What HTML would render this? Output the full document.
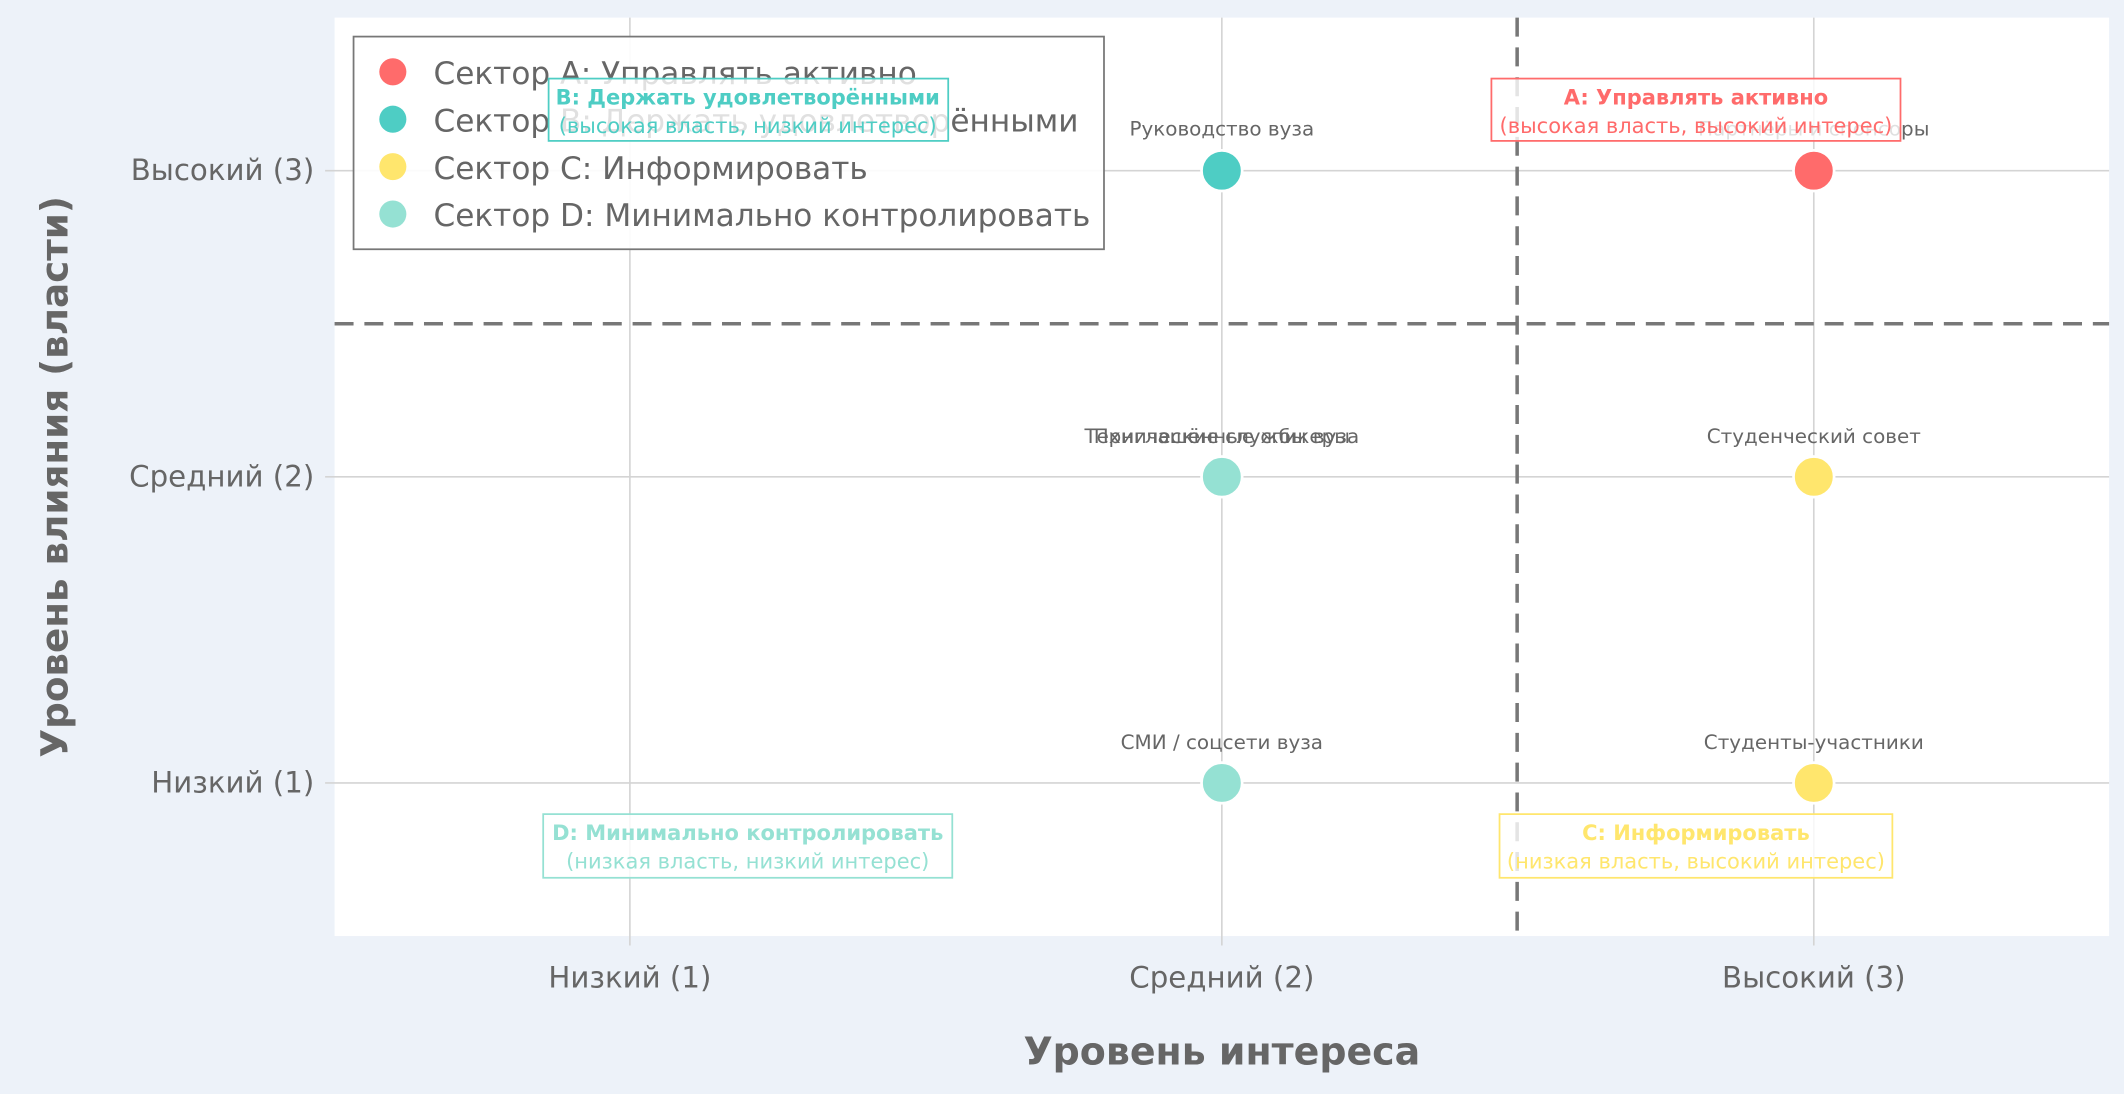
<!DOCTYPE html>
<html><head><meta charset="utf-8"><style>
html,body{margin:0;padding:0;background:#edf2f9;}
svg{display:block;font-family:"DejaVu Sans","Liberation Sans",sans-serif;}
</style></head><body>
<svg width="2124" height="1094" viewBox="0 0 1568 807.6" xmlns="http://www.w3.org/2000/svg">
<rect x="0" y="0" width="1568" height="808" fill="#edf2f9"/>
<rect x="247" y="13" width="1310" height="678" fill="#ffffff"/>
<g stroke="#d4d4d4" stroke-width="1.2">
<line x1="465" y1="13" x2="465" y2="698"/>
<line x1="902" y1="13" x2="902" y2="698"/>
<line x1="1339" y1="13" x2="1339" y2="698"/>
<line x1="240" y1="126" x2="1557" y2="126"/>
<line x1="240" y1="352" x2="1557" y2="352"/>
<line x1="240" y1="578" x2="1557" y2="578"/>
</g>
<g stroke="#777" stroke-width="2.6" stroke-dasharray="14,8">
<line x1="1120" y1="13" x2="1120" y2="691"/>
<line x1="247" y1="239" x2="1557" y2="239"/>
</g>
<g fill="#666" font-size="21.6" text-anchor="end">
<text x="232" y="133">Высокий (3)</text>
<text x="232" y="359">Средний (2)</text>
<text x="232" y="585">Низкий (1)</text>
</g>
<g fill="#666" font-size="21.6" text-anchor="middle">
<text x="465" y="729">Низкий (1)</text>
<text x="902" y="729">Средний (2)</text>
<text x="1339" y="729">Высокий (3)</text>
</g>
<text x="902" y="786" fill="#666" font-size="28" font-weight="bold" text-anchor="middle">Уровень интереса</text>
<text transform="translate(50,352) rotate(-90)" fill="#666" font-size="27.5" font-weight="bold" text-anchor="middle">Уровень влияния (власти)</text>
<g stroke="#fff" stroke-width="2">
<circle cx="902" cy="126" r="15" fill="#4ecdc4"/>
<circle cx="1339" cy="126" r="15" fill="#ff6b6b"/>
<circle cx="902" cy="352" r="15" fill="#95e1d3"/>
<circle cx="1339" cy="352" r="15" fill="#ffe66d"/>
<circle cx="902" cy="578" r="15" fill="#95e1d3"/>
<circle cx="1339" cy="578" r="15" fill="#ffe66d"/>
</g>
<g fill="#666" font-size="14.7" text-anchor="middle">
<text x="902" y="100">Руководство вуза</text>
<text x="1339" y="100">Партнёры и спонсоры</text>
<text x="902" y="327">Технические службы вуза</text>
<text x="902" y="327">Приглашённые спикеры</text>
<text x="1339" y="327">Студенческий совет</text>
<text x="902" y="553">СМИ / соцсети вуза</text>
<text x="1339" y="553">Студенты-участники</text>
</g>
<rect x="261" y="27" width="554" height="157" fill="#fff" fill-opacity="0.9" stroke="#777" stroke-width="1.3"/>
<circle cx="290" cy="53" r="10" fill="#ff6b6b"/>
<circle cx="290" cy="88" r="10" fill="#4ecdc4"/>
<circle cx="290" cy="123" r="10" fill="#ffe66d"/>
<circle cx="290" cy="158" r="10" fill="#95e1d3"/>
<g fill="#666" font-size="23">
<text x="320" y="62">Сектор A: Управлять активно</text>
<text x="320" y="97">Сектор B: Держать удовлетворёнными</text>
<text x="320" y="132">Сектор C: Информировать</text>
<text x="320" y="167">Сектор D: Минимально контролировать</text>
</g>
<g font-size="15.5" text-anchor="middle">
<rect x="1101" y="58" width="302" height="46" fill="#fff" fill-opacity="0.8" stroke="#ff6b6b" stroke-width="1.3"/>
<text x="1252" y="77" fill="#ff6b6b" font-weight="bold">A: Управлять активно</text>
<text x="1252" y="98" fill="#ff6b6b">(высокая власть, высокий интерес)</text>
<rect x="405" y="58" width="295" height="46" fill="#fff" fill-opacity="0.8" stroke="#4ecdc4" stroke-width="1.3"/>
<text x="552" y="77" fill="#4ecdc4" font-weight="bold">B: Держать удовлетворёнными</text>
<text x="552" y="98" fill="#4ecdc4">(высокая власть, низкий интерес)</text>
<rect x="1107" y="601" width="290" height="47" fill="#fff" fill-opacity="0.8" stroke="#ffe66d" stroke-width="1.3"/>
<text x="1252" y="620" fill="#ffe66d" font-weight="bold">C: Информировать</text>
<text x="1252" y="641" fill="#ffe66d">(низкая власть, высокий интерес)</text>
<rect x="401" y="601" width="302" height="47" fill="#fff" fill-opacity="0.8" stroke="#95e1d3" stroke-width="1.3"/>
<text x="552" y="620" fill="#95e1d3" font-weight="bold">D: Минимально контролировать</text>
<text x="552" y="641" fill="#95e1d3">(низкая власть, низкий интерес)</text>
</g>
</svg>
</body></html>
